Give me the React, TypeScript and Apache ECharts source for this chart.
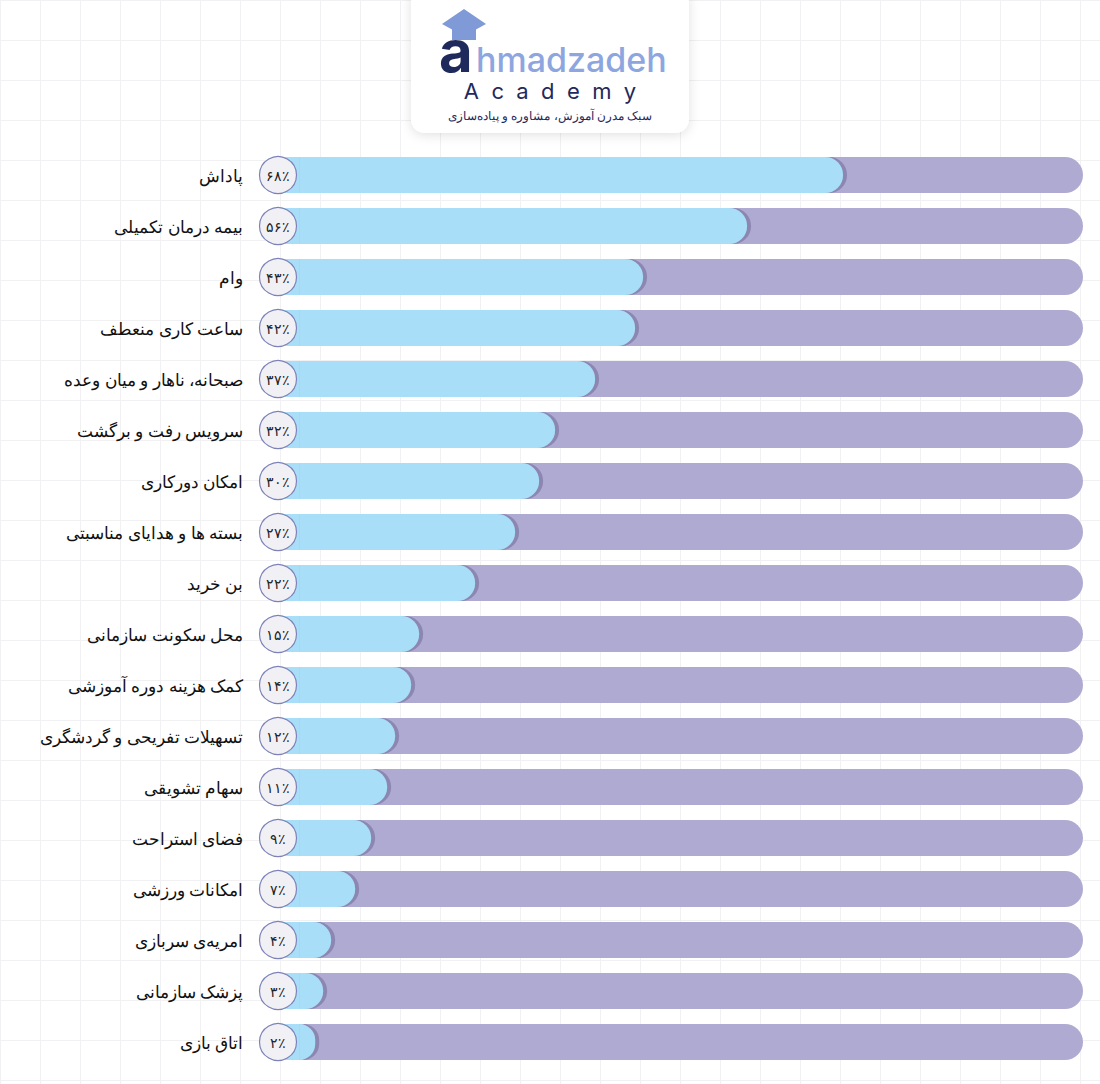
import { useEffect, useRef } from "react";
import * as echarts from "echarts";

// Top to bottom.
const CATEGORIES = [
  "پاداش",
  "بیمه درمان تکمیلی",
  "وام",
  "ساعت کاری منعطف",
  "صبحانه، ناهار و میان وعده",
  "سرویس رفت و برگشت",
  "امکان دورکاری",
  "بسته ها و هدایای مناسبتی",
  "بن خرید",
  "محل سکونت سازمانی",
  "کمک هزینه دوره آموزشی",
  "تسهیلات تفریحی و گردشگری",
  "سهام تشویقی",
  "فضای استراحت",
  "امکانات ورزشی",
  "امریه‌ی سربازی",
  "پزشک سازمانی",
  "اتاق بازی",
];
const VALUES = [68, 56, 43, 42, 37, 32, 30, 27, 22, 15, 14, 12, 11, 9, 7, 4, 3, 2];

const X_MIN = -4.9;
const X_MAX = 98;
const BADGE_X = -2.65;

const toFa = (n: number) => String(n).replace(/\d/g, (d) => "۰۱۲۳۴۵۶۷۸۹"[+d]) + "٪";

export default function App() {
  const ref = useRef<HTMLDivElement>(null);

  useEffect(() => {
    if (!ref.current) return;
    const chart = echarts.init(ref.current, undefined, { renderer: "svg" });
    chart.setOption({
      animation: false,
      backgroundColor: "transparent",
      grid: { left: 260, right: 17, top: 149.5, bottom: 16.5, containLabel: false },
      xAxis: { type: "value", min: X_MIN, max: X_MAX, show: false },
      yAxis: {
        type: "category",
        inverse: true,
        data: CATEGORIES,
        axisLine: { show: false },
        axisTick: { show: false },
        axisLabel: { margin: 17, fontSize: 17, color: "#111", fontFamily: "Noto Sans" },
      },
      graphic: [
        {
          type: "group",
          children: [
            {
              type: "rect",
              shape: { x: 411, y: -12, width: 278, height: 145, r: 14 },
              style: { fill: "#fff", shadowBlur: 12, shadowColor: "rgba(0,0,0,0.12)", shadowOffsetY: 2 },
            },
            { type: "polygon", shape: { points: [[442, 24], [464, 9], [486, 24], [464, 36]] }, style: { fill: "#7f9ad6" } },
            { type: "rect", shape: { x: 452, y: 28, width: 24, height: 12 }, style: { fill: "#7f9ad6" } },
            { type: "text", x: 439, y: 80, style: { text: "a", font: "bold 58px Inter", fill: "#1f2a5c", textVerticalAlign: "bottom" } },
            { type: "text", x: 476, y: 76, style: { text: "hmadzadeh", font: "500 34px Inter", fill: "#8ea6e0", textVerticalAlign: "bottom" } },
            { type: "text", x: 550, y: 91, style: { text: "A  c  a  d  e  m  y", font: "22px Inter", fill: "#1f2a5c", textAlign: "center", textVerticalAlign: "middle" } },
            { type: "text", x: 550, y: 115, style: { text: "سبک مدرن آموزش، مشاوره و پیاده‌سازی", font: "12px 'Noto Sans'", fill: "#1f2a5c", textAlign: "center", textVerticalAlign: "middle" } },
          ],
        },
      ],
      series: [
        {
          type: "bar",
          data: VALUES,
          stack: "fill",
          barWidth: 36,
          showBackground: true,
          backgroundStyle: { color: "#afaad2", borderRadius: 18 },
          itemStyle: {
            color: "#a9def8",
            borderRadius: [0, 18, 18, 0],
            shadowColor: "#8c86b2",
            shadowOffsetX: 4,
          },
          z: 2,
        },
        {
          type: "bar",
          data: VALUES.map(() => X_MIN),
          stack: "fill",
          barWidth: 36,
          itemStyle: { color: "#a9def8", borderRadius: [18, 0, 0, 18] },
          z: 2,
        },
        {
          type: "custom",
          renderItem: (_p: any, api: any) => {
            const pt = api.coord([BADGE_X, api.value(1)]);
            return {
              type: "group",
              children: [
                {
                  type: "circle",
                  shape: { cx: pt[0], cy: pt[1], r: 18.5 },
                  style: { fill: "#f1f1f5", stroke: "#7d82b8", lineWidth: 1.2 },
                },
                {
                  type: "text",
                  x: pt[0],
                  y: pt[1],
                  style: {
                    text: toFa(api.value(0)),
                    fill: "#222",
                    font: "14px 'Noto Sans'",
                    textAlign: "center",
                    textVerticalAlign: "middle",
                  },
                },
              ],
            };
          },
          data: VALUES.map((v, i) => [v, i]),
          encode: { x: 0, y: 1 },
          z: 5,
        },
      ],
    });
    return () => chart.dispose();
  }, []);

  return (
    <div
      style={{
        position: "fixed",
        left: 0,
        top: 0,
        width: 1100,
        height: 1084,
        backgroundColor: "#fff",
        backgroundImage:
          "linear-gradient(#f1f1f4 1px, transparent 1px), linear-gradient(90deg, #f1f1f4 1px, transparent 1px)",
        backgroundSize: "40px 40px",
      }}
    >
      <div ref={ref} style={{ width: 1100, height: 1084 }} />
    </div>
  );
}
